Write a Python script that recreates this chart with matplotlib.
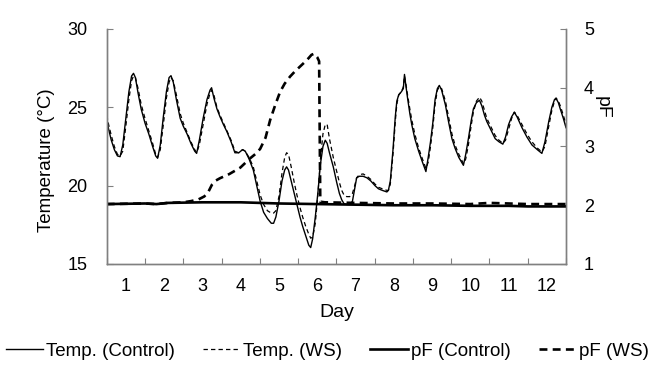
import matplotlib
matplotlib.use("Agg")
import matplotlib.pyplot as plt
from matplotlib.ticker import FixedLocator, NullFormatter, FixedFormatter

plt.rcParams['font.family'] = ['Liberation Sans', 'DejaVu Sans']

day_labels = ['1', '2', '3', '4', '5', '6', '7', '8', '9', '10', '11', '12']

temp_time = [0.00, 0.05, 0.12, 0.20, 0.28, 0.35, 0.42, 0.50, 0.58, 0.65, 0.70, 0.75, 0.82, 0.90,
             1.00, 1.10, 1.20, 1.28, 1.33, 1.40, 1.48, 1.56, 1.63, 1.68, 1.74, 1.82, 1.92,
             2.00, 2.10, 2.20, 2.30, 2.35, 2.42, 2.52, 2.62, 2.70, 2.74, 2.80, 2.88, 2.96,
             3.05, 3.14, 3.25, 3.35, 3.45, 3.55, 3.62, 3.72, 3.83, 3.92,
             4.01, 4.10, 4.20, 4.30, 4.36, 4.42, 4.50, 4.58, 4.65, 4.70, 4.75, 4.82, 4.90, 4.97,
             5.05, 5.12, 5.20, 5.28, 5.33, 5.38, 5.45, 5.52, 5.58, 5.65, 5.71, 5.76, 5.82, 5.92,
             6.01, 6.08, 6.14, 6.20, 6.27, 6.35, 6.42, 6.48, 6.53, 6.60, 6.70, 6.80, 6.90,
             7.01, 7.10, 7.20, 7.32, 7.36, 7.41, 7.48, 7.54, 7.58, 7.63, 7.70, 7.75, 7.78, 7.81, 7.86, 7.92, 7.97,
             8.05, 8.15, 8.25, 8.34, 8.40, 8.46, 8.52, 8.58, 8.64, 8.69, 8.75, 8.85, 8.93,
             9.02, 9.10, 9.20, 9.32, 9.38, 9.45, 9.52, 9.58, 9.66, 9.74, 9.80, 9.87, 9.93,
             10.05, 10.15, 10.25, 10.35, 10.42, 10.50, 10.58, 10.65, 10.72, 10.85, 10.98,
             11.11, 11.25, 11.37, 11.45, 11.55, 11.63, 11.70, 11.74, 11.80, 11.85, 11.93, 12.00]

temp_control = [24.3, 23.6, 22.9, 22.3, 21.9, 21.85, 22.6, 24.3, 26.0, 27.0, 27.17, 26.9, 25.9, 24.9,
                24.0, 23.3, 22.5, 21.9, 21.75, 22.6, 24.4, 26.0, 26.9, 27.02, 26.6, 25.5, 24.3,
                23.8, 23.3, 22.7, 22.2, 22.06, 22.9, 24.3, 25.5, 26.1, 26.25, 25.6, 24.9, 24.4,
                23.9, 23.45, 22.8, 22.1, 22.1, 22.3, 22.2, 21.7, 21.0, 20.0,
                19.0, 18.3, 17.9, 17.6, 17.6, 18.0, 19.0, 20.3, 21.0, 21.2, 21.0, 20.3, 19.5, 18.8,
                18.0, 17.4, 16.8, 16.2, 16.05, 16.6, 18.0, 19.6, 21.3, 22.5, 22.9, 22.7, 22.1, 21.2,
                20.2, 19.5, 19.1, 18.85, 18.8, 18.8, 19.0, 19.8, 20.5, 20.6, 20.6, 20.5, 20.3,
                20.0, 19.8, 19.7, 19.6, 19.7, 20.3, 22.3, 24.4, 25.4, 25.8, 26.0, 26.2, 27.1, 26.5, 25.6, 24.6, 23.9,
                23.0, 22.2, 21.5, 20.9, 21.8, 22.8, 24.0, 25.5, 26.2, 26.4, 26.1, 25.15, 24.1,
                23.0, 22.4, 21.8, 21.3, 22.0, 23.0, 24.1, 24.9, 25.3, 25.45, 25.1, 24.5, 24.1,
                23.5, 23.0, 22.8, 22.65, 23.1, 23.9, 24.4, 24.68, 24.4, 23.7, 23.1,
                22.6, 22.3, 22.06, 22.8, 24.1, 25.0, 25.5, 25.57, 25.3, 24.9, 24.3, 23.7]

temp_ws = [24.5, 23.9, 23.2, 22.5, 22.0, 21.9, 22.2, 23.8, 25.5, 26.7, 27.0, 26.9, 26.2, 25.2,
           24.3, 23.5, 22.7, 22.0, 21.8, 22.3, 23.9, 25.6, 26.6, 26.9, 26.7, 25.8, 24.6,
           24.0, 23.4, 22.8, 22.3, 22.1, 22.6, 23.9, 25.2, 25.9, 26.1, 25.8, 25.0, 24.5,
           24.0, 23.5, 22.9, 22.2, 22.1, 22.3, 22.2, 21.8, 21.2, 20.3,
           19.4, 18.8, 18.4, 18.25, 18.25, 18.4, 19.3, 20.8, 21.8, 22.1, 22.0, 21.2, 20.2, 19.4,
           18.6, 18.0, 17.4, 16.9, 16.65, 16.7, 17.6, 19.5, 21.6, 23.3, 23.9, 23.9, 23.0, 21.8,
           20.9, 20.2, 19.7, 19.4, 19.3, 19.3, 19.5, 20.0, 20.5, 20.7, 20.75, 20.6, 20.4,
           20.1, 19.9, 19.8, 19.7, 19.7, 20.1, 22.0, 24.1, 25.2, 25.8, 26.0, 26.3, 27.0, 26.6, 25.8, 24.9, 24.2,
           23.3, 22.4, 21.7, 21.1, 21.5, 22.5, 23.7, 25.2, 26.1, 26.3, 26.2, 25.4, 24.4,
           23.3, 22.6, 22.0, 21.4, 21.7, 22.6, 23.8, 24.7, 25.4, 25.65, 25.4, 24.8, 24.3,
           23.7, 23.2, 22.9, 22.7, 22.9, 23.6, 24.3, 24.7, 24.5, 23.9, 23.3,
           22.8, 22.4, 22.15, 22.5, 23.8, 24.8, 25.4, 25.6, 25.4, 25.1, 24.5, 23.9]

pf_control_time = [0.0, 1.0, 1.3, 1.6, 2.5, 3.5, 4.5, 5.5, 6.5, 7.5, 8.5, 9.5, 10.5, 11.0, 12.0]
pf_control = [2.02, 2.03, 2.02, 2.04, 2.05, 2.05, 2.03, 2.02, 2.01, 2.00, 2.00, 1.99, 1.99, 1.98, 1.98]

pf_ws_time = [0.0, 1.0, 1.3, 1.6, 2.0, 2.2, 2.4, 2.55, 2.65, 2.75, 2.85, 2.96, 3.2, 3.49, 3.75, 3.9,
              4.01, 4.15, 4.27, 4.4, 4.53, 4.65, 4.79, 4.92, 5.05, 5.18, 5.27, 5.35, 5.42, 5.50,
              5.55, 5.58, 5.7, 6.5, 7.5, 8.5, 9.5, 10.0, 10.5, 11.0, 12.0]
pf_ws = [2.02, 2.03, 2.02, 2.04, 2.05, 2.07, 2.10, 2.15, 2.22, 2.35, 2.42, 2.46, 2.53, 2.64, 2.80, 2.88,
         2.96, 3.15, 3.45, 3.70, 3.93, 4.07, 4.19, 4.28, 4.36, 4.44, 4.50, 4.56, 4.58, 4.52,
         4.45, 2.06, 2.05, 2.04, 2.03, 2.03, 2.02, 2.04, 2.03, 2.02, 2.02]

fig = plt.figure(figsize=(6.57, 3.75), dpi=100)
W, H = 657, 375
x0, x1, y0, y1 = 106.7, 566, 29, 264
ax = fig.add_axes([x0 / W, 1 - y1 / H, (x1 - x0) / W, (y1 - y0) / H])
ax2 = ax.twinx()

l1, = ax.plot(temp_time, temp_control, color='black', lw=1.0, ls='-', label='Temp. (Control)')
l2, = ax.plot(temp_time, temp_ws, color='black', lw=0.9, ls=(0, (3.5, 2.5)), label='Temp. (WS)')
l3, = ax2.plot(pf_control_time, pf_control, color='black', lw=1.9, ls='-', label='pF (Control)')
l4, = ax2.plot(pf_ws_time, pf_ws, color='black', lw=1.9, ls=(0, (3, 2)), label='pF (WS)')

ax.set_xlim(0, 12)
ax.set_ylim(15, 30)
ax2.set_ylim(1, 5)
ax.set_yticks([15, 20, 25, 30])
ax2.set_yticks([1, 2, 3, 4, 5])

ax.xaxis.set_major_locator(FixedLocator(list(range(0, 13))))
ax.xaxis.set_major_formatter(NullFormatter())
ax.xaxis.set_minor_locator(FixedLocator([i + 0.5 for i in range(12)]))
ax.xaxis.set_minor_formatter(FixedFormatter(day_labels))
ax.tick_params(axis='x', which='major', direction='in', length=4, color='#808080')
ax.tick_params(axis='x', which='minor', length=0, labelsize=13, pad=10)
ax.tick_params(axis='y', direction='in', length=4, color='#808080', labelsize=13, pad=14)
ax2.tick_params(axis='y', direction='in', length=4, color='#808080', labelsize=13, pad=13)

for a in (ax, ax2):
    a.spines['top'].set_visible(False)
    for s in ('left', 'right', 'bottom'):
        a.spines[s].set_color('#808080')
        a.spines[s].set_linewidth(1.0)

ax.set_xlabel('Day', fontsize=14, va='center')
ax.xaxis.set_label_coords(0.5, -0.2085)
ax.set_ylabel('Temperature (°C)', fontsize=13.5, va='center')
ax.yaxis.set_label_coords(-0.132, 0.44)
ax2.set_ylabel('pF', fontsize=14, rotation=270, va='center', ha='center')
ax2.yaxis.set_label_coords(1.078, 0.665)

fig.legend(handles=[l1, l2, l3, l4], loc='center', bbox_to_anchor=(0.498, 0.063), ncol=4,
           frameon=False, fontsize=13.5, handlelength=2.0, handletextpad=0.15, columnspacing=1.5)

fig.savefig('out.png', dpi=100)
